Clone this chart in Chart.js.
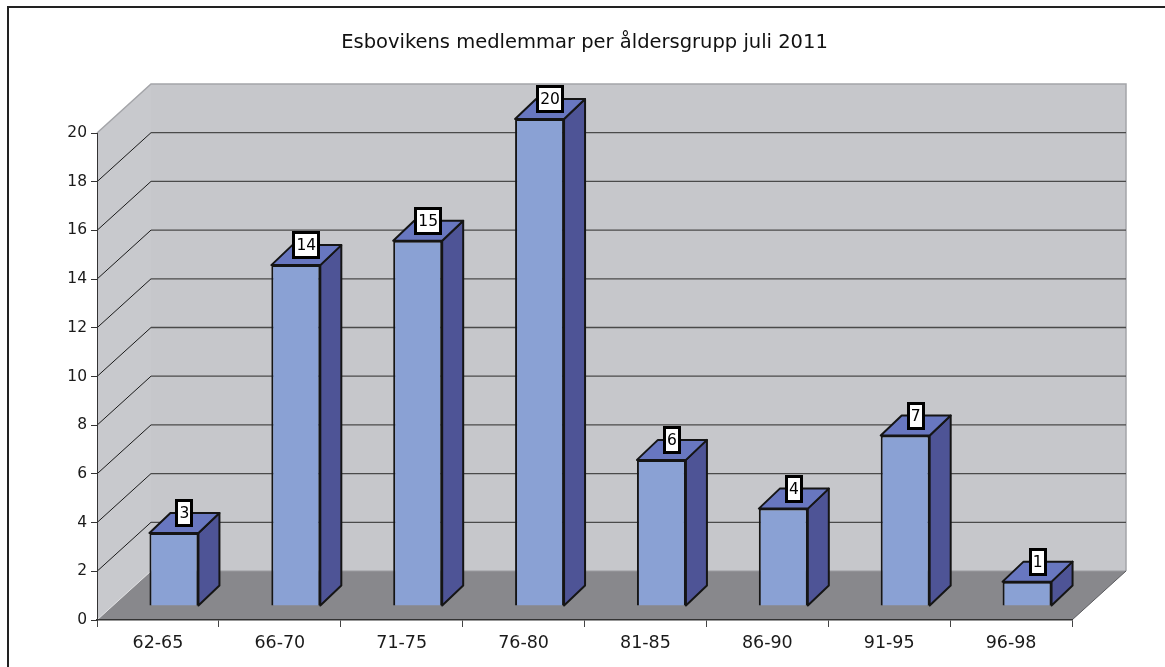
<!DOCTYPE html>
<html><head><meta charset="utf-8">
<script src="https://cdn.jsdelivr.net/npm/chart.js@4/dist/chart.umd.min.js"></script>
<style>html,body{margin:0;padding:0;background:#fff;overflow:hidden}</style>
</head><body>
<canvas id="c" width="1165" height="667"></canvas>
<script>
// ---- data ----
const categories = ['62-65', '66-70', '71-75', '76-80', '81-85', '86-90', '91-95', '96-98'];
const members = [3, 14, 15, 20, 6, 4, 7, 1];
const yMin = 0;
const yMax = 20;
const yStep = 2;
const chartTitle = 'Esbovikens medlemmar per åldersgrupp juli 2011';

// ---- 3D styling (offsets in px) ----
const WALL = { dx: 54, dy: -49 };
const BAR_SHIFT = { dx: 16, dy: -14 };
const BAR_DEPTH = { dx: 21, dy: -20 };
const FONT = 'DejaVu Sans';

function poly(ctx, pts, fill, stroke, lw) {
  ctx.beginPath();
  ctx.moveTo(pts[0][0], pts[0][1]);
  for (let i = 1; i < pts.length; i++) ctx.lineTo(pts[i][0], pts[i][1]);
  ctx.closePath();
  if (fill) { ctx.fillStyle = fill; ctx.fill(); }
  if (stroke) { ctx.strokeStyle = stroke; ctx.lineWidth = lw || 1; ctx.stroke(); }
}

const threeD = {
  id: 'threeD',
  beforeDraw(chart) {
    const { ctx, chartArea: a } = chart;
    const y = chart.scales.y;
    const L = a.left, R = a.right, T = a.top, B = a.bottom, dx = WALL.dx, dy = WALL.dy;
    ctx.save();
    // outer frame
    ctx.strokeStyle = '#222'; ctx.lineWidth = 2;
    ctx.strokeRect(8, 7, 1400, 900);
    // back wall
    poly(ctx, [[L + dx, T + dy], [R + dx, T + dy], [R + dx, B + dy], [L + dx, B + dy]], '#C6C7CB');
    // left wall
    poly(ctx, [[L, T], [L + dx, T + dy], [L + dx, B + dy], [L, B]], '#C8C9CD');
    // floor
    poly(ctx, [[L, B], [R, B], [R + dx, B + dy], [L + dx, B + dy]], '#88888C');
    // wall edges
    ctx.lineWidth = 1.5; ctx.strokeStyle = '#A4A5A9';
    ctx.beginPath();
    ctx.moveTo(L, T); ctx.lineTo(L + dx, T + dy); ctx.lineTo(R + dx, T + dy); ctx.lineTo(R + dx, B + dy);
    ctx.stroke();
    ctx.strokeStyle = '#9A9A9E'; ctx.lineWidth = 1;
    ctx.beginPath(); ctx.moveTo(L + dx, B + dy); ctx.lineTo(R + dx, B + dy); ctx.stroke();
    ctx.strokeStyle = '#E0E0E2';
    ctx.beginPath(); ctx.moveTo(L, B); ctx.lineTo(L + dx, B + dy); ctx.stroke();
    ctx.strokeStyle = '#5A5A5E';
    ctx.beginPath(); ctx.moveTo(R, B); ctx.lineTo(R + dx, B + dy); ctx.stroke();
    // gridlines on walls
    y.ticks.forEach(t => {
      if (t.value <= yMin || t.value >= yMax) return;
      const py = y.getPixelForValue(t.value);
      ctx.strokeStyle = '#1a1a1a'; ctx.lineWidth = 1;
      ctx.beginPath(); ctx.moveTo(L, py); ctx.lineTo(L + dx, py + dy); ctx.stroke();
      ctx.strokeStyle = '#4a4a4a'; ctx.lineWidth = 1.3;
      ctx.beginPath(); ctx.moveTo(L + dx, py + dy); ctx.lineTo(R + dx, py + dy); ctx.stroke();
    });
    ctx.restore();
  },
  beforeDatasetsDraw(chart) {
    chart.ctx.save();
    chart.ctx.translate(BAR_SHIFT.dx, BAR_SHIFT.dy);
  },
  afterDatasetsDraw(chart) {
    const ctx = chart.ctx;
    const meta = chart.getDatasetMeta(0);
    const data = chart.data.datasets[0].data;
    meta.data.forEach((el, i) => {
      const p = el.getProps(['x', 'y', 'base', 'width'], true);
      const l = p.x - p.width / 2, r = p.x + p.width / 2;
      const bx = BAR_DEPTH.dx, by = BAR_DEPTH.dy;
      ctx.lineJoin = 'round';
      // side face
      poly(ctx, [[r, p.y], [r + bx, p.y + by], [r + bx, p.base + by], [r, p.base]], '#4E5496', '#151515', 2);
      // top face
      poly(ctx, [[l, p.y], [l + bx, p.y + by], [r + bx, p.y + by], [r, p.y]], '#6877C0', '#151515', 2);
      // value label
      const txt = String(data[i]);
      ctx.font = '15.5px "' + FONT + '"';
      const w = ctx.measureText(txt).width;
      const cx = p.x + bx / 2, cy = p.y + by;
      const ow = Math.round(w + 8), oh = 28;
      ctx.fillStyle = '#000';
      ctx.fillRect(Math.round(cx - ow / 2), Math.round(cy - oh / 2), ow, oh);
      ctx.fillStyle = '#fff';
      ctx.fillRect(Math.round(cx - ow / 2) + 3, Math.round(cy - oh / 2) + 3, ow - 6, oh - 6);
      ctx.fillStyle = '#000';
      ctx.textAlign = 'center'; ctx.textBaseline = 'middle';
      ctx.fillText(txt, cx, cy + 1);
    });
    ctx.restore();
  }
};

new Chart(document.getElementById('c'), {
  type: 'bar',
  data: {
    labels: categories,
    datasets: [{
      data: members,
      backgroundColor: '#8AA1D4',
      borderColor: '#151515',
      borderWidth: 2,
      categoryPercentage: 1,
      barPercentage: 0.402,
      clip: false
    }]
  },
  options: {
    responsive: false,
    animation: false,
    events: [],
    layout: { padding: { left: 0, right: 93, top: 0, bottom: 0 } },
    plugins: {
      legend: { display: false },
      tooltip: { enabled: false },
      title: {
        display: true,
        text: chartTitle,
        fullSize: false,
        color: '#111',
        font: { family: FONT, size: 19.5, weight: 'normal', lineHeight: 1.2 },
        padding: { top: 31, bottom: 78.6 }
      }
    },
    scales: {
      x: {
        offset: true,
        grid: { offset: true, drawOnChartArea: false, tickLength: 7, color: '#444', lineWidth: 1 },
        border: { display: true, color: '#333', width: 1.5 },
        ticks: { font: { family: FONT, size: 17.5 }, color: '#1a1a1a', padding: 6, maxRotation: 0, autoSkip: false },
        afterFit(s) { s.height = 47; }
      },
      y: {
        min: yMin, max: yMax,
        ticks: { stepSize: yStep, font: { family: FONT, size: 15.5 }, color: '#1a1a1a', padding: 4 },
        grid: { drawOnChartArea: false, tickLength: 6, color: '#333', lineWidth: 1 },
        border: { display: true, color: '#333', width: 1 },
        afterFit(s) { s.width = 97; }
      }
    }
  },
  plugins: [threeD]
});
</script>
</body></html>
